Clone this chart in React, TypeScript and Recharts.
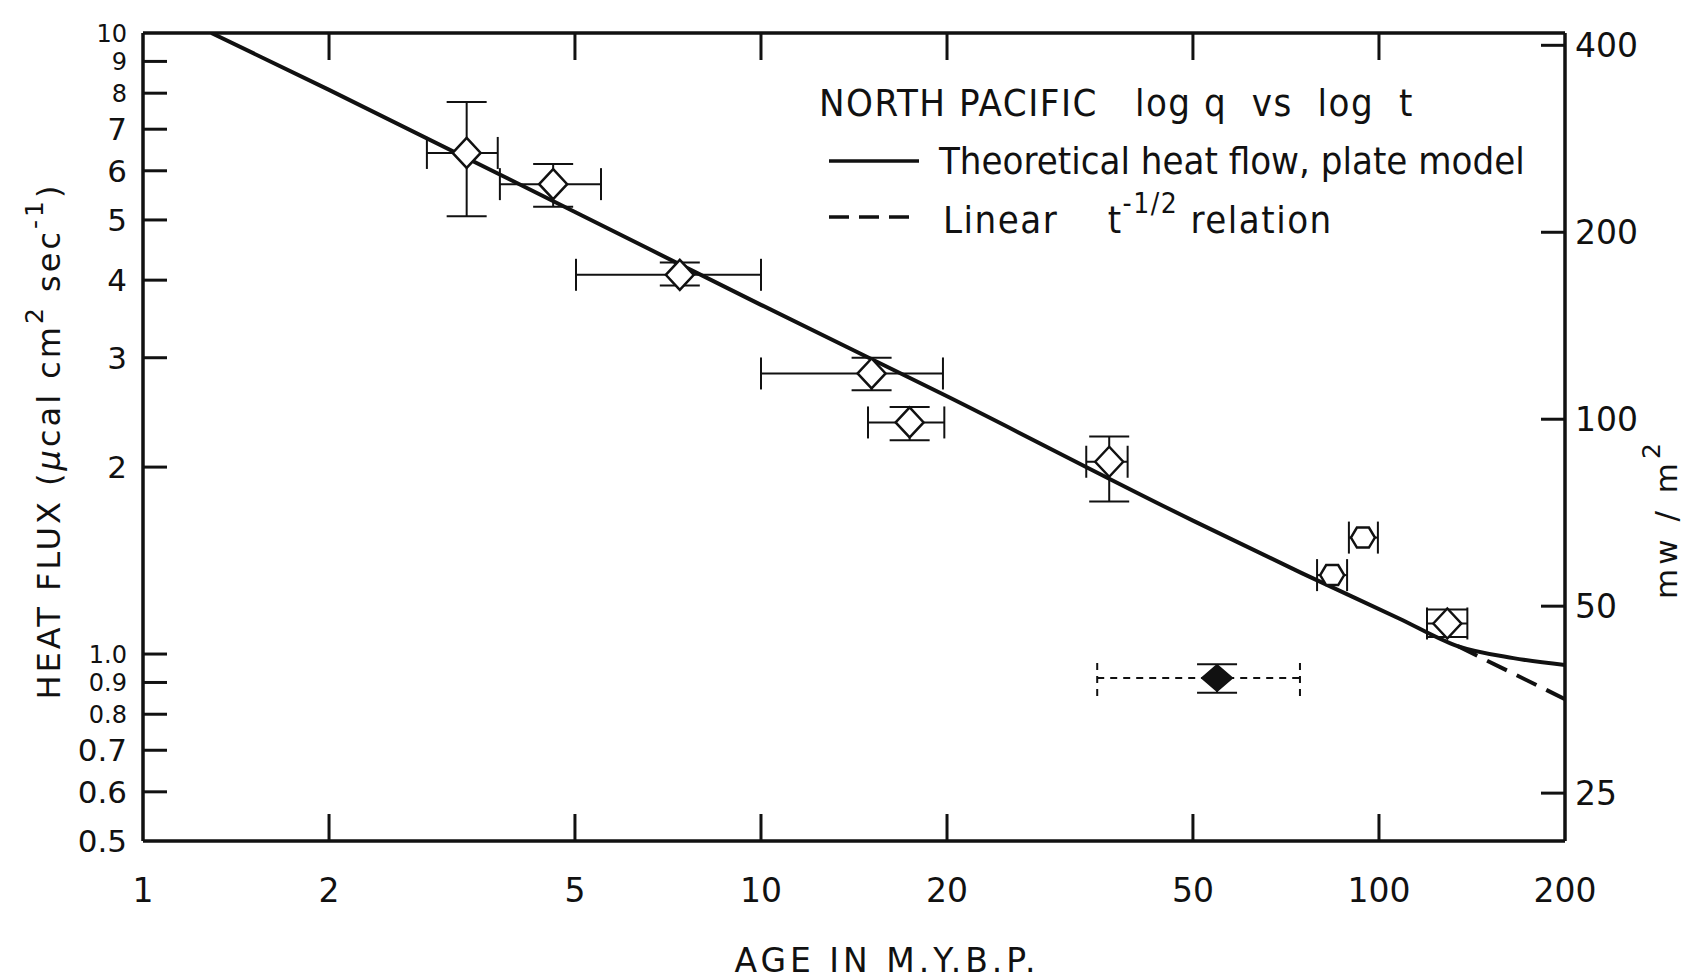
import React from "react"
import {
  ComposedChart,
  Line,
  Scatter,
  XAxis,
  YAxis,
  ErrorBar,
  Legend,
  Label,
} from "recharts"

// values: age in m.y., heat flux in µcal cm^-2 s^-1
const openAges = [3.34, 4.61, 7.39, 15.1, 17.4, 36.6, 129]
const openFlux = [6.41, 5.71, 4.08, 2.83, 2.36, 2.04, 1.12]
const openAgeLo = [2.88, 3.78, 5.02, 10.0, 14.9, 33.6, 119.6]
const openAgeHi = [3.75, 5.51, 10.0, 19.7, 19.8, 39.2, 139]
const openFluxLo = [5.07, 5.25, 3.92, 2.66, 2.21, 1.76, 1.065]
const openFluxHi = [7.74, 6.15, 4.27, 3.0, 2.5, 2.24, 1.18]

const hexAges = [84, 94.2]
const hexFlux = [1.34, 1.54]
const hexAgeLo = [79.4, 89.4]
const hexAgeHi = [88.8, 99.6]

const filledAges = [54.7]
const filledFlux = [0.915]
const filledAgeLo = [35.0]
const filledAgeHi = [74.5]
const filledFluxLo = [0.866]
const filledFluxHi = [0.963]

const plateAges = [1.29, 2, 5, 10, 20, 50, 75, 108, 134, 165, 200]
const plateFlux = [10, 8.1, 5.15, 3.65, 2.6, 1.64, 1.35, 1.14, 1.03, 0.985, 0.96]
const linearAges = [134, 165, 200]
const linearFlux = [1.03, 0.93, 0.846]

const ageTicks = [1, 2, 5, 10, 20, 50, 100, 200]
const fluxTicks = [0.5, 0.6, 0.7, 0.8, 0.9, 1, 2, 3, 4, 5, 6, 7, 8, 9, 10]
const crowdedFlux = [10, 9, 8, 1, 0.9, 0.8]
const mwTicks = [25, 50, 100, 200, 400]
const MW_PER_HFU = 41.868

const INK = "#111"
const SANS = "'DejaVu Sans', sans-serif"
const NARROW = "'Liberation Sans Narrow', 'DejaVu Sans Condensed', sans-serif"

const buildPoints = (
  ages: number[],
  flux: number[],
  ageLo?: number[],
  ageHi?: number[],
  fluxLo?: number[],
  fluxHi?: number[]
) =>
  ages.map((age, i) => ({
    age,
    q: flux[i],
    ex: ageLo && ageHi ? [age - ageLo[i], ageHi[i] - age] : undefined,
    ey: fluxLo && fluxHi ? [flux[i] - fluxLo[i], fluxHi[i] - flux[i]] : undefined,
  }))

const openPoints = buildPoints(openAges, openFlux, openAgeLo, openAgeHi, openFluxLo, openFluxHi)
const hexPoints = buildPoints(hexAges, hexFlux, hexAgeLo, hexAgeHi)
const filledPoints = buildPoints(filledAges, filledFlux, filledAgeLo, filledAgeHi, filledFluxLo, filledFluxHi)
const plateLine = plateAges.map((age, i) => ({ age, q: plateFlux[i] }))
const linearLine = linearAges.map((age, i) => ({ age, q: linearFlux[i] }))

const OpenDiamond = (props: any) => {
  const { cx, cy } = props
  return (
    <polygon
      points={`${cx - 14},${cy} ${cx},${cy - 15} ${cx + 14},${cy} ${cx},${cy + 15}`}
      fill="#fff"
      stroke={INK}
      strokeWidth={2.5}
    />
  )
}

const OpenHex = (props: any) => {
  const { cx, cy } = props
  return (
    <polygon
      points={`${cx - 12},${cy} ${cx - 6},${cy - 10} ${cx + 6},${cy - 10} ${cx + 12},${cy} ${cx + 6},${cy + 10} ${cx - 6},${cy + 10}`}
      fill="#fff"
      stroke={INK}
      strokeWidth={2.5}
    />
  )
}

const FilledDiamond = (props: any) => {
  const { cx, cy } = props
  return (
    <polygon
      points={`${cx - 15},${cy} ${cx},${cy - 13} ${cx + 15},${cy} ${cx},${cy + 13}`}
      fill={INK}
      stroke={INK}
      strokeWidth={2}
    />
  )
}

const fluxLabel = (v: number) => (v === 1 ? "1.0" : v < 1 ? v.toFixed(1) : String(v))

const LeftTick = ({ x, y, payload }: any) => {
  const v = payload.value
  const corner = v === 10 || v === 0.5
  const small = crowdedFlux.includes(v)
  return (
    <g>
      {!corner && <line x1={x} x2={x + 24} y1={y} y2={y} stroke={INK} strokeWidth={3} />}
      <text
        x={x - 16}
        y={y + (small ? 9 : 11)}
        textAnchor="end"
        fontSize={small ? 24 : 31}
        fontFamily={SANS}
        fill={INK}
      >
        {fluxLabel(v)}
      </text>
    </g>
  )
}

const RightTick = ({ x, y, payload }: any) => (
  <g>
    <line x1={x} x2={x - 24} y1={y} y2={y} stroke={INK} strokeWidth={3} />
    <text x={x + 10} y={y + 12} textAnchor="start" fontSize={33} fontFamily={SANS} fill={INK}>
      {payload.value}
    </text>
  </g>
)

const BottomTick = ({ x, y, payload }: any) => {
  const v = payload.value
  const corner = v === 1 || v === 200
  return (
    <g>
      {!corner && <line x1={x} x2={x} y1={y} y2={y - 27} stroke={INK} strokeWidth={3} />}
      <text x={x} y={y + 61} textAnchor="middle" fontSize={33} fontFamily={SANS} fill={INK}>
        {v}
      </text>
    </g>
  )
}

const TopTick = ({ x, y }: any) => (
  <line x1={x} x2={x} y1={y} y2={y + 27} stroke={INK} strokeWidth={3} />
)

const LeftTitle = ({ viewBox }: any) => {
  const x = viewBox.x + 60
  const y = viewBox.y + viewBox.height / 2 + 4
  return (
    <text
      transform={`translate(${x},${y}) rotate(-90)`}
      textAnchor="middle"
      fontSize={32}
      fontFamily={SANS}
      fill={INK}
      letterSpacing={3}
    >
      HEAT FLUX (<tspan fontStyle="italic">μ</tspan>cal cm
      <tspan dy={-17} fontSize={25}>2</tspan>
      <tspan dy={17}> sec</tspan>
      <tspan dy={-17} fontSize={25}>-1</tspan>
      <tspan dy={17}>)</tspan>
    </text>
  )
}

const RightTitle = ({ viewBox }: any) => {
  const x = viewBox.x + 112
  const y = viewBox.y + viewBox.height / 2 + 82
  return (
    <text
      transform={`translate(${x},${y}) rotate(-90)`}
      textAnchor="middle"
      fontSize={31}
      fontFamily={SANS}
      fill={INK}
      letterSpacing={4}
    >
      mw / m<tspan dy={-17} fontSize={25}>2</tspan>
    </text>
  )
}

const BottomTitle = ({ viewBox }: any) => (
  <text
    x={viewBox.x + viewBox.width / 2 + 33}
    y={viewBox.y + 131}
    textAnchor="middle"
    fontSize={33}
    fontFamily={SANS}
    fill={INK}
    letterSpacing={4}
  >
    AGE IN M.Y.B.P.
  </text>
)

const LegendBox = () => (
  <div style={{ fontFamily: NARROW, color: INK, lineHeight: 1, whiteSpace: "nowrap" }}>
    <div style={{ fontSize: 38, letterSpacing: 1.5 }}>
      NORTH PACIFIC&nbsp;&nbsp;&nbsp;log q&nbsp;&nbsp;vs&nbsp;&nbsp;log&nbsp;&nbsp;t
    </div>
    <div style={{ display: "flex", alignItems: "center", marginTop: 20 }}>
      <svg width={100} height={10}>
        <line x1={10} x2={100} y1={5} y2={5} stroke={INK} strokeWidth={3.5} />
      </svg>
      <span style={{ marginLeft: 20, fontSize: 38 }}>Theoretical heat flow, plate model</span>
    </div>
    <div style={{ display: "flex", alignItems: "center", marginTop: 16 }}>
      <svg width={100} height={10}>
        <line x1={10} x2={100} y1={5} y2={5} stroke={INK} strokeWidth={3.5} strokeDasharray="20 10" />
      </svg>
      <span style={{ marginLeft: 24, fontSize: 38, letterSpacing: 1.5 }}>
        Linear&nbsp;&nbsp;&nbsp;&nbsp;t
        <sup style={{ fontSize: 28, position: "relative", top: -6 }}>-1/2</sup>
        &nbsp;relation
      </span>
    </div>
  </div>
)

export default function App() {
  return (
    <div style={{ position: "absolute", left: 0, top: 0, background: "#fff" }}>
      <ComposedChart width={1701} height={979} margin={{ top: 3, right: 0, bottom: 0, left: 0 }}>
        <XAxis
          dataKey="age"
          type="number"
          scale="log"
          domain={[1, 200]}
          allowDataOverflow
          ticks={ageTicks}
          interval={0}
          tick={BottomTick}
          tickLine={false}
          tickSize={0}
          tickMargin={0}
          height={138}
          axisLine={{ stroke: INK, strokeWidth: 3.5 }}
        >
          <Label content={BottomTitle} />
        </XAxis>
        <XAxis
          xAxisId="top"
          orientation="top"
          dataKey="age"
          type="number"
          scale="log"
          domain={[1, 200]}
          allowDataOverflow
          ticks={ageTicks.slice(1, -1)}
          interval={0}
          tick={TopTick}
          tickLine={false}
          tickSize={0}
          tickMargin={0}
          height={30}
          axisLine={{ stroke: INK, strokeWidth: 3.5 }}
        />
        <YAxis
          dataKey="q"
          type="number"
          scale="log"
          domain={[0.5, 10]}
          allowDataOverflow
          ticks={fluxTicks}
          interval={0}
          tick={LeftTick}
          tickLine={false}
          tickSize={0}
          tickMargin={0}
          width={143}
          axisLine={{ stroke: INK, strokeWidth: 3.5 }}
        >
          <Label content={LeftTitle} />
        </YAxis>
        <YAxis
          yAxisId="r"
          orientation="right"
          type="number"
          scale="log"
          domain={[0.5 * MW_PER_HFU, 10 * MW_PER_HFU]}
          allowDataOverflow
          ticks={mwTicks}
          interval={0}
          tick={RightTick}
          tickLine={false}
          tickSize={0}
          tickMargin={0}
          width={136}
          axisLine={{ stroke: INK, strokeWidth: 3.5 }}
        >
          <Label content={RightTitle} />
        </YAxis>
        <Legend
          layout="vertical"
          align="center"
          verticalAlign="middle"
          content={LegendBox}
          wrapperStyle={{ left: 819, top: 84, width: "auto" }}
        />
        <Line
          data={linearLine}
          dataKey="q"
          stroke={INK}
          strokeWidth={4}
          strokeDasharray="22 11"
          dot={false}
          isAnimationActive={false}
        />
        <Line
          data={plateLine}
          dataKey="q"
          type="monotone"
          stroke={INK}
          strokeWidth={4}
          dot={false}
          isAnimationActive={false}
        />
        <Scatter data={openPoints} dataKey="q" shape={OpenDiamond} isAnimationActive={false}>
          <ErrorBar dataKey="ex" direction="x" width={16} stroke={INK} strokeWidth={2} />
          <ErrorBar dataKey="ey" direction="y" width={20} stroke={INK} strokeWidth={2} />
        </Scatter>
        <Scatter data={hexPoints} dataKey="q" shape={OpenHex} isAnimationActive={false}>
          <ErrorBar dataKey="ex" direction="x" width={16} stroke={INK} strokeWidth={2} />
        </Scatter>
        <Scatter data={filledPoints} dataKey="q" shape={FilledDiamond} isAnimationActive={false}>
          <ErrorBar dataKey="ex" direction="x" width={18} stroke={INK} strokeWidth={2} strokeDasharray="7 6" />
          <ErrorBar dataKey="ey" direction="y" width={20} stroke={INK} strokeWidth={2} />
        </Scatter>
      </ComposedChart>
    </div>
  )
}
